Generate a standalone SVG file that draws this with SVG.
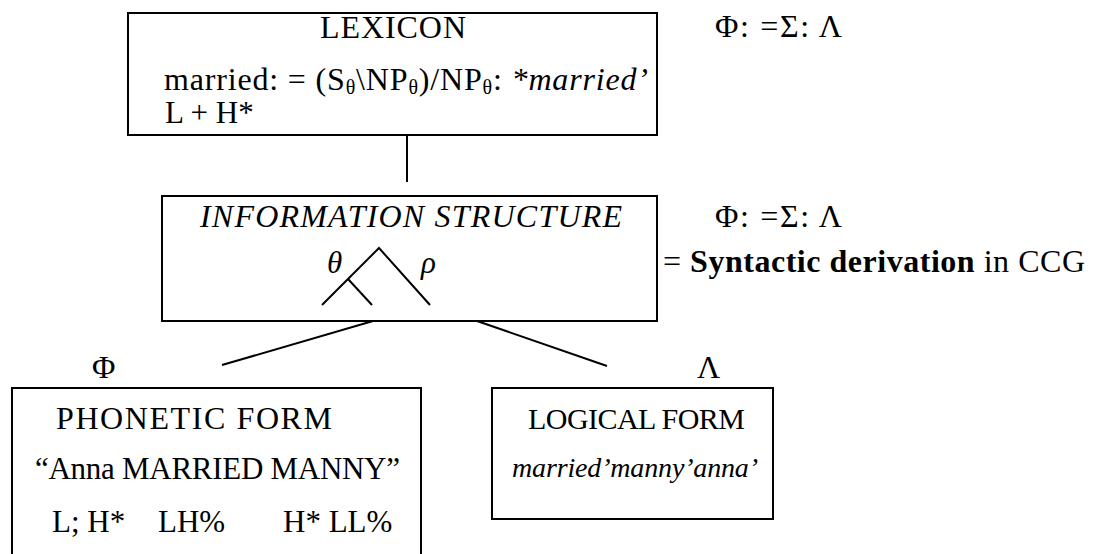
<svg xmlns="http://www.w3.org/2000/svg" width="1120" height="554" viewBox="0 0 1120 554">
<style>
text{font-family:"Liberation Serif","Times New Roman",serif;font-size:32px;fill:#000}
.box{fill:none;stroke:#000;stroke-width:2}
.ln{stroke:#000;stroke-width:2;fill:none}
.it{font-style:italic}
.b{font-weight:bold}
.sub{font-size:20px}
.m{font-size:31px}
</style>
<rect width="1120" height="554" fill="#fff"/>
<g id="lexicon">
<rect class="box" x="128" y="13" width="529" height="122"/>
<text x="320" y="38" textLength="146" lengthAdjust="spacing">LEXICON</text>
<text x="164" y="90" textLength="484" lengthAdjust="spacing">married: = (S<tspan class="sub" dy="4">θ</tspan><tspan dy="-4">\NP</tspan><tspan class="sub" dy="4">θ</tspan><tspan dy="-4">)/NP</tspan><tspan class="sub" dy="4">θ</tspan><tspan dy="-4">: </tspan><tspan class="it">*married’</tspan></text>
<text class="m" x="165" y="123">L + H*</text>
</g>
<text id="map1" x="715" y="37" textLength="127" lengthAdjust="spacing">Φ: =Σ: Λ</text>
<g id="infostructure">
<rect class="box" x="162" y="196" width="495" height="125"/>
<text class="it" x="200" y="227" textLength="422" lengthAdjust="spacing">INFORMATION STRUCTURE</text>
<polyline class="ln" points="322,305 379,248 430,305"/>
<line class="ln" x1="348" y1="279" x2="372" y2="305"/>
<text class="it m" x="327" y="273">θ</text>
<text class="it m" x="421" y="273">ρ</text>
</g>
<text id="map2" x="715" y="227" textLength="127" lengthAdjust="spacing">Φ: =Σ: Λ</text>
<text id="syntax" x="663" y="272" textLength="422" lengthAdjust="spacing">= <tspan class="b">Syntactic derivation</tspan> in CCG</text>
<g id="connectors">
<line class="ln" x1="407" y1="135" x2="407" y2="182"/>
<line class="ln" x1="373" y1="321" x2="222" y2="365"/>
<line class="ln" x1="477" y1="321" x2="607" y2="366"/>
</g>
<text id="phi" x="92" y="378">Φ</text>
<text id="lambda" x="697" y="378">Λ</text>
<g id="phonetic">
<rect class="box" x="12" y="388" width="409" height="180"/>
<text x="56" y="429" textLength="276" lengthAdjust="spacing">PHONETIC FORM</text>
<text class="m" x="35" y="479" textLength="365" lengthAdjust="spacing">“Anna MARRIED MANNY”</text>
<text class="m" x="52" y="532">L; H*</text>
<text class="m" x="158" y="532">LH%</text>
<text class="m" x="283" y="532">H* LL%</text>
</g>
<g id="logical">
<rect class="box" x="492" y="388" width="281" height="131"/>
<text x="528" y="429" style="font-size:30px" textLength="217" lengthAdjust="spacing">LOGICAL FORM</text>
<text class="it" x="512" y="477" style="font-size:28px" textLength="246" lengthAdjust="spacing">married’manny’anna’</text>
</g>
</svg>
